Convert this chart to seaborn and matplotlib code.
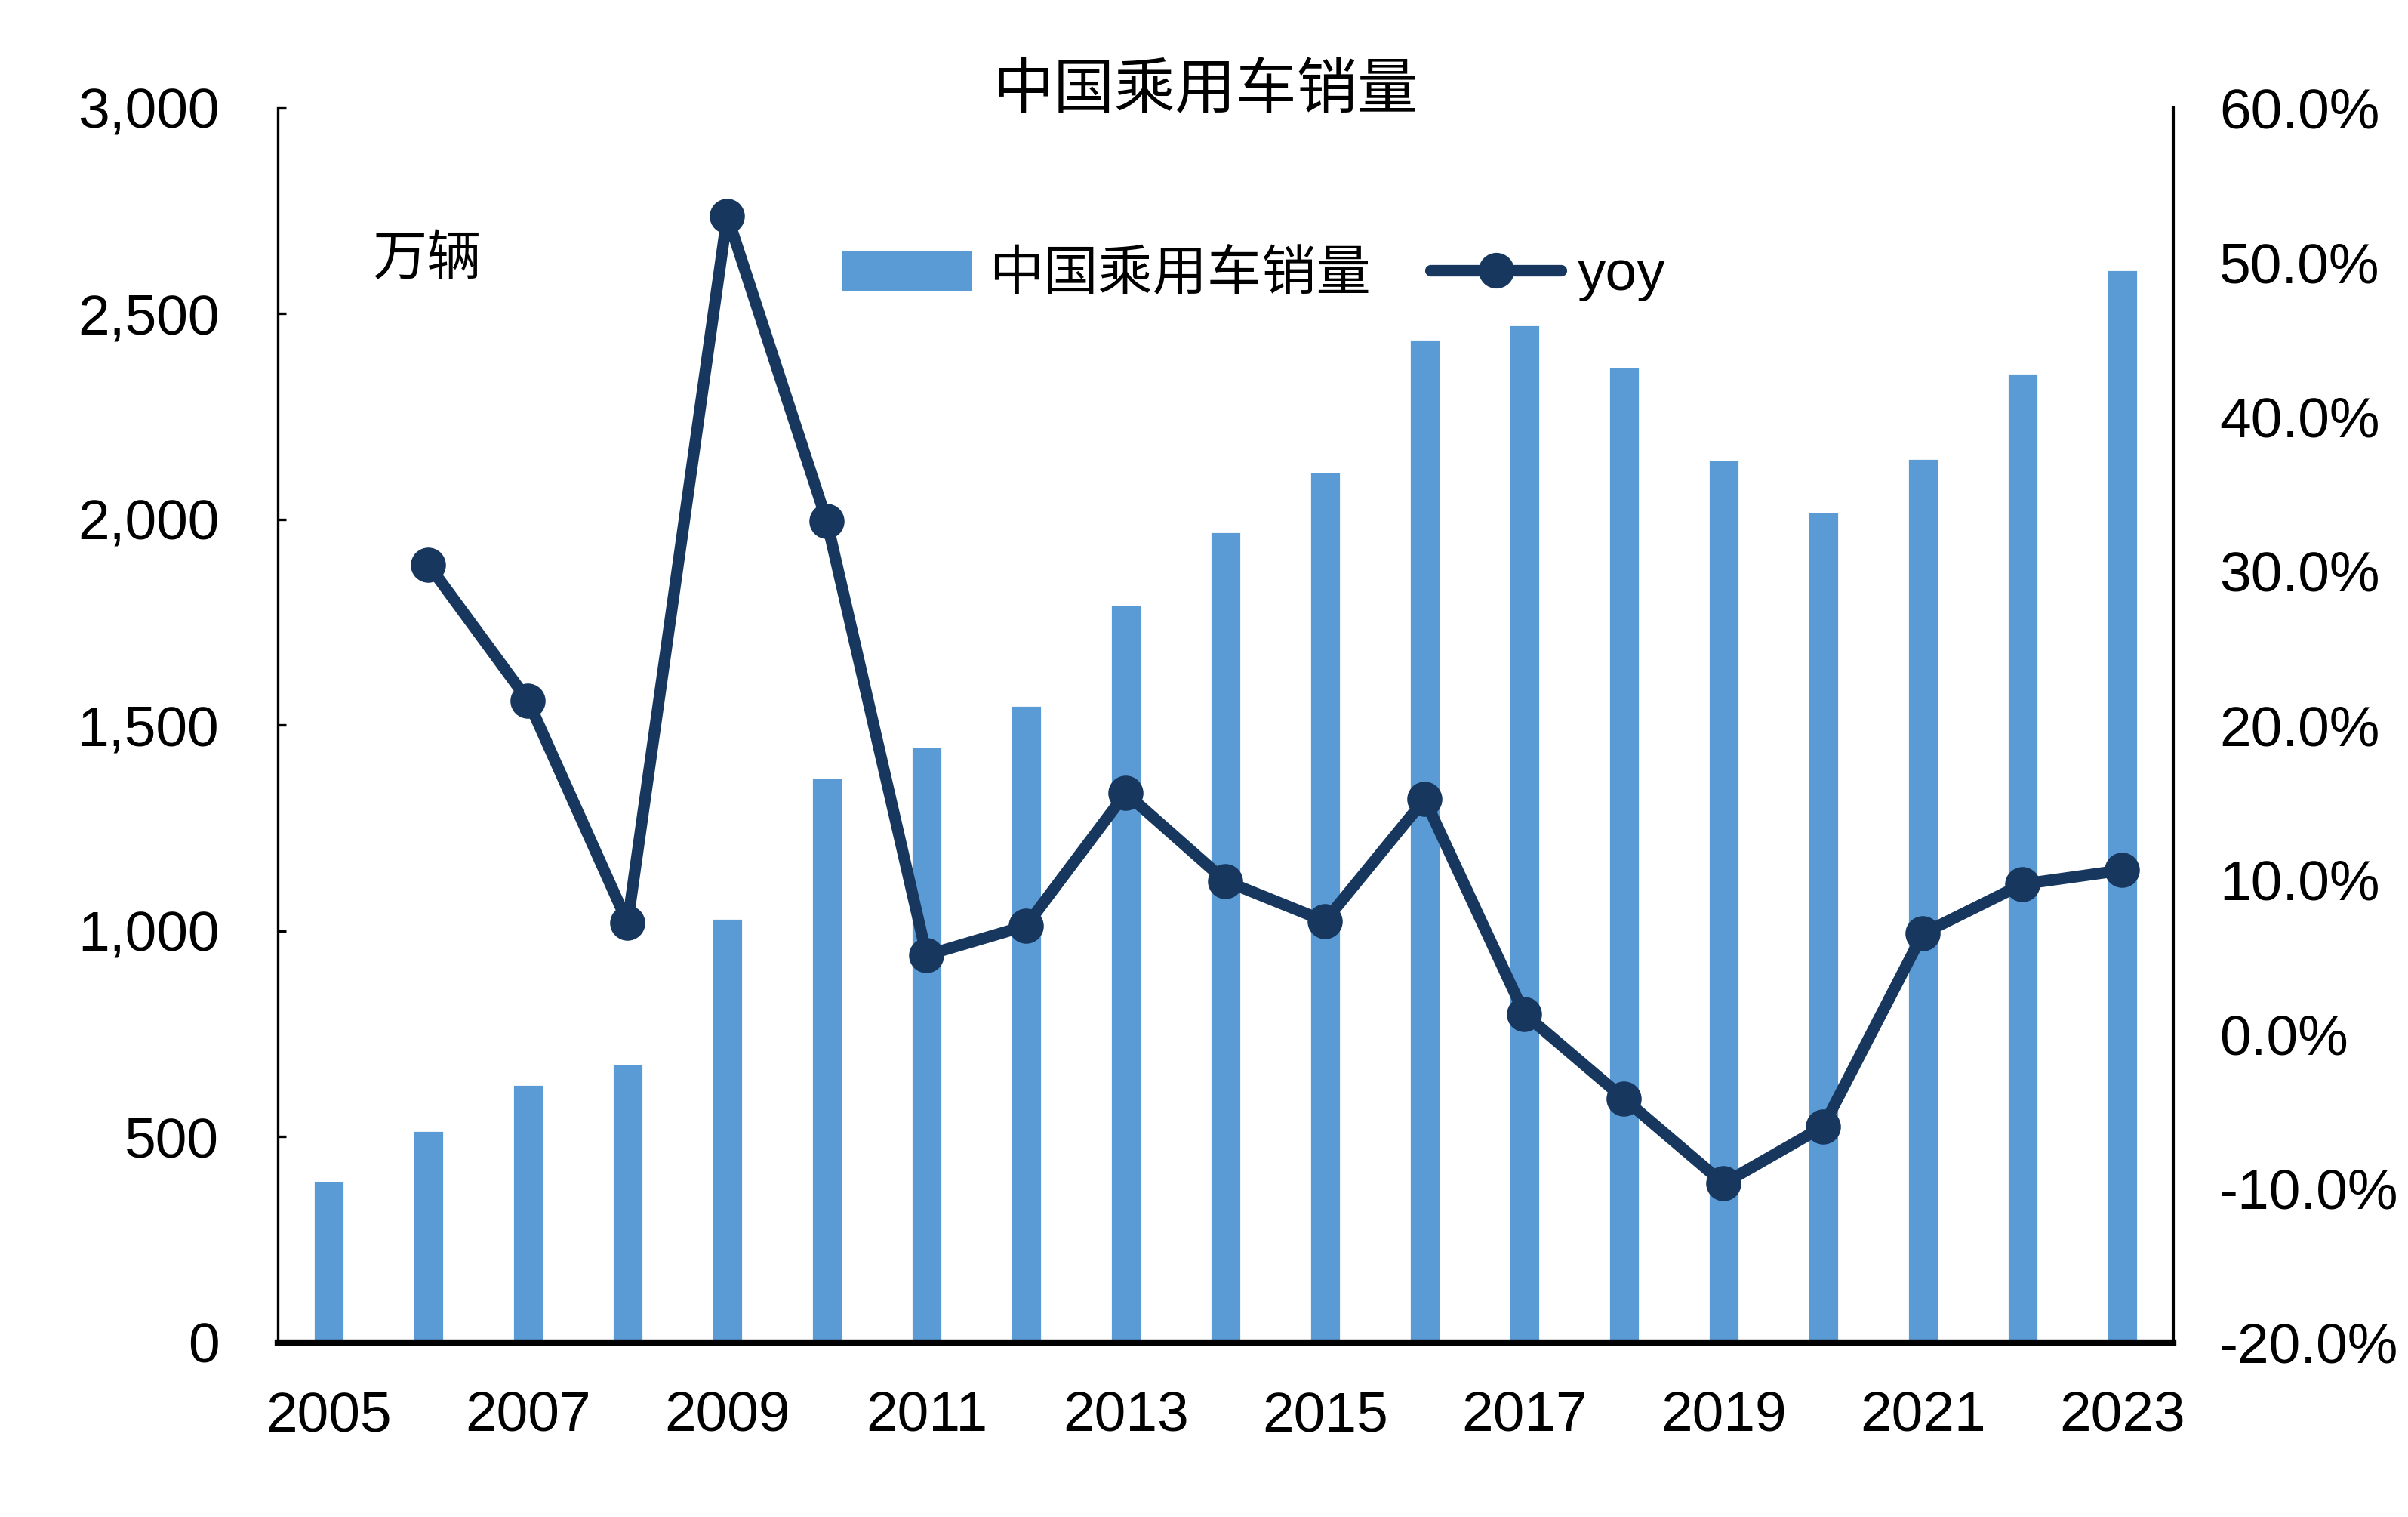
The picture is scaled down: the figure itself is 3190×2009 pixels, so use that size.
import numpy as np
import pandas as pd
import matplotlib
matplotlib.use("Agg")
import matplotlib.pyplot as plt
import seaborn as sns
from matplotlib.ticker import FuncFormatter, FixedLocator
from matplotlib.patches import Patch
from matplotlib.lines import Line2D

# ---- data ----
years = list(range(2005, 2024))
sales = [393, 516, 628, 676, 1031, 1373, 1447, 1549, 1793, 1970, 2115, 2438, 2472, 2371,
         2144, 2018, 2148, 2356, 2606]          # 万辆
yoy = [np.nan, 30.4, 21.6, 7.2, 53.0, 33.2, 5.1, 7.0, 15.6, 9.9, 7.3, 15.2, 1.3, -4.2,
       -9.7, -6.0, 6.5, 9.7, 10.6]              # %

title = "中国乘用车销量"
bar_label = "中国乘用车销量"
line_label = "yoy"
unit_label = "万辆"

bar_color = "#5B9BD5"
line_color = "#17375E"

df = pd.DataFrame({"year": years, "sales": sales, "yoy": yoy})

sns.set_style("white", {"text.color": "black", "axes.labelcolor": "black",
                        "xtick.color": "black", "ytick.color": "black",
                        "axes.edgecolor": "black"})
plt.rcParams["font.family"] = ["Liberation Sans", "Noto Sans CJK SC", "DejaVu Sans"]
cjk = ["Noto Sans CJK SC", "DejaVu Sans"]

fig = plt.figure(figsize=(15.95, 10.045), dpi=200)
ax = fig.add_axes([0.1154, 0.115, 0.787, 0.814])

sns.barplot(data=df, x="year", y="sales", native_scale=True, color=bar_color,
            saturation=1, width=0.31, ax=ax)
ax.set_xlim(2004.49, 2023.51)
ax.set_ylim(0, 3000)
ax.yaxis.set_major_locator(FixedLocator(np.arange(0, 3001, 500)))
ax.yaxis.set_major_formatter(FuncFormatter(lambda v, p: f"{v:,.0f}"))
ax.xaxis.set_major_locator(FixedLocator(years[::2]))
ax.xaxis.set_major_formatter(FuncFormatter(lambda v, p: f"{int(round(v))}"))
ax.set_xlabel("")
ax.set_ylabel("")

ax2 = ax.twinx()
sns.lineplot(data=df.dropna(), x="year", y="yoy", color=line_color, linewidth=5.5,
             marker="o", markersize=16, markeredgecolor=line_color, ax=ax2)
ax2.set_ylim(-20, 60)
ax2.yaxis.set_major_locator(FixedLocator(np.arange(-20, 61, 10)))
ax2.yaxis.set_major_formatter(FuncFormatter(lambda v, p: f"{v:.1f}%"))
ax2.set_ylabel("")
ax2.set_xlim(2004.49, 2023.51)

for a in (ax, ax2):
    a.spines["top"].set_visible(False)
    a.grid(False)
ax.spines["left"].set_linewidth(1.2)
ax.spines["bottom"].set_linewidth(3)
ax.spines["right"].set_visible(False)
ax2.spines["left"].set_visible(False)
ax2.spines["bottom"].set_visible(False)
ax2.spines["right"].set_linewidth(1.5)
for a in (ax, ax2):
    for s in a.spines.values():
        s.set_color("black")

ax.tick_params(axis="y", direction="in", length=4, width=1.2, labelsize=27, pad=28,
               colors="black")
ax.tick_params(axis="x", length=0, labelsize=27, pad=23, colors="black")
ax2.tick_params(axis="y", length=0, labelsize=27, pad=22, colors="black")

# title and unit
fig.text(0.5006, 0.941, title, ha="center", va="center", fontsize=29, family=cjk,
         fontweight="light", color="black")
ax.text(0.05, 0.877, unit_label, transform=ax.transAxes, ha="left", va="center",
        fontsize=26, family=cjk, fontweight="light", color="black")

handles = [Patch(facecolor=bar_color, edgecolor="none"),
           Line2D([], [], color=line_color, linewidth=5.5, marker="o", markersize=16)]
leg = fig.legend(handles, [bar_label, line_label], loc="center left",
                 bbox_to_anchor=(0.3495, 0.819), ncol=2, frameon=False,
                 prop={"family": cjk, "size": 26, "weight": "light"}, handlelength=2.4,
                 handleheight=0.75, columnspacing=1.1, handletextpad=0.3,
                 borderpad=0, borderaxespad=0, labelcolor="black")
leg.get_texts()[1].set_family(["Liberation Sans", "DejaVu Sans"])
leg.get_texts()[1].set_fontsize(27)

fig.savefig("out.png", dpi=200)
